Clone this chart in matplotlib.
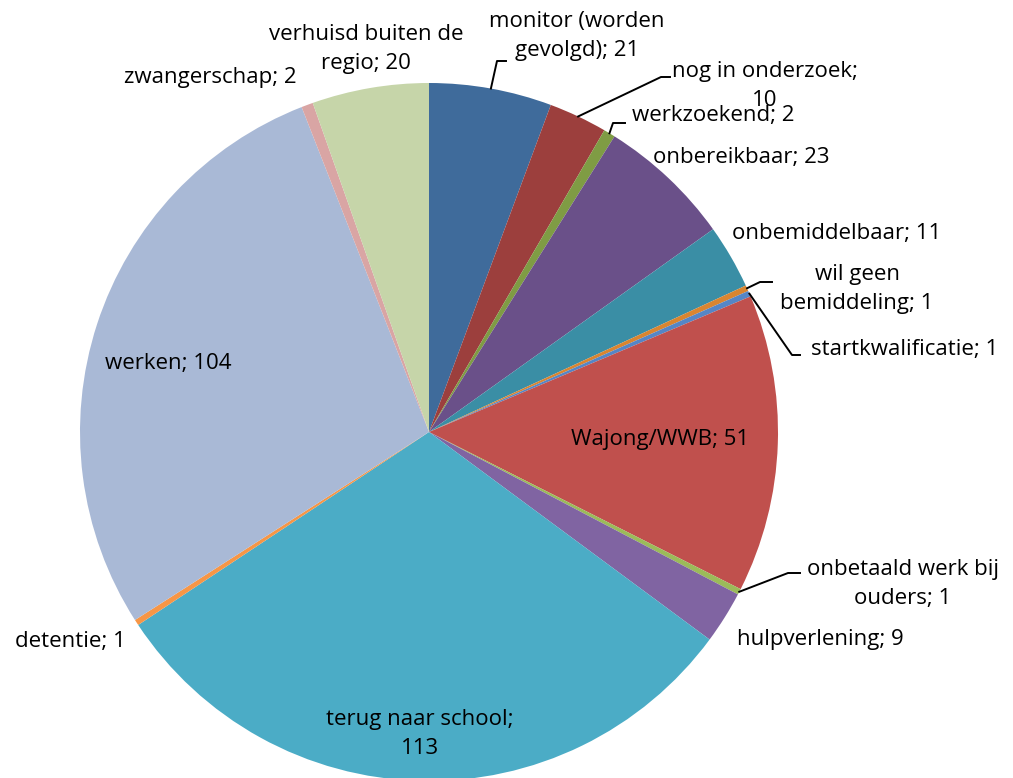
import matplotlib
matplotlib.use("Agg")
import matplotlib.pyplot as plt
import numpy as np

labels = [
    "monitor (worden\ngevolgd)", "nog in onderzoek;\n", "werkzoekend", "onbereikbaar",
    "onbemiddelbaar", "wil geen\nbemiddeling", "startkwalificatie", "Wajong/WWB",
    "onbetaald werk bij\nouders", "hulpverlening", "terug naar school;\n", "detentie",
    "werken", "zwangerschap", "verhuisd buiten de\nregio",
]
values = [21, 10, 2, 23, 11, 1, 1, 51, 1, 9, 113, 1, 104, 2, 20]
colors = [
    "#3F6B9B", "#9C3F3D", "#7F9C44", "#6A5089", "#3A8EA5", "#D98530", "#5586C6",
    "#C0504D", "#9BBB59", "#8064A2", "#4BACC6", "#F79646", "#A9B9D6", "#D9A5A4",
    "#C6D5A9",
]

W, H = 1013, 778
CX, CY, R = 429, 432, 349


def px(x, y):
    # image pixel -> data coordinates (pie radius 1)
    return (x - CX) / R, (CY - y) / R


# label centre in image pixels, optional leader (elbow, end) in pixels
label_pos = [
    ((577, 36), ((497, 61), (506, 61))),
    ((765, 86), ((661, 77), (670, 77))),
    ((713, 116), ((613, 123), (625, 123))),
    ((741, 157), None),
    ((837, 234), None),
    ((857, 289), ((760, 282), (772, 282))),
    ((905, 349), ((792, 355), (800, 355))),
    ((660, 440), None),
    ((903, 584), ((788, 573), (800, 573))),
    ((820, 639), None),
    ((420, 734), None),
    ((70, 641), None),
    ((168, 364), None),
    ((210, 78), None),
    ((366, 49), None),
]


def main():
    plt.rcParams["font.family"] = ["Open Sans", "DejaVu Sans"]
    fig = plt.figure(figsize=(W / 100, H / 100), dpi=100)
    ax = fig.add_axes([0, 0, 1, 1])
    wedges, _ = ax.pie(values, colors=colors, startangle=90, counterclock=False,
                       radius=1, wedgeprops=dict(linewidth=0))
    ax.set_xlim(-CX / R, (W - CX) / R)
    ax.set_ylim((CY - H) / R, CY / R)
    ax.set_aspect("equal")
    ax.axis("off")

    for w, lab, val, (pos, leader) in zip(wedges, labels, values, label_pos):
        if lab.endswith(";\n"):
            text = lab + str(val)
        else:
            text = f"{lab}; {val}"
        tx, ty = px(*pos)
        ax.text(tx, ty, text, ha="center", va="center", fontsize=16,
                linespacing=1.5, color="black")
        if leader:
            mid = np.deg2rad((w.theta1 + w.theta2) / 2)
            sx, sy = np.cos(mid), np.sin(mid)
            ex, ey = px(*leader[0])
            fx, fy = px(*leader[1])
            ax.plot([sx, ex, fx], [sy, ey, fy], color="black", lw=1.4)

    fig.savefig("out.png", dpi=100)


if __name__ == "__main__":
    main()
